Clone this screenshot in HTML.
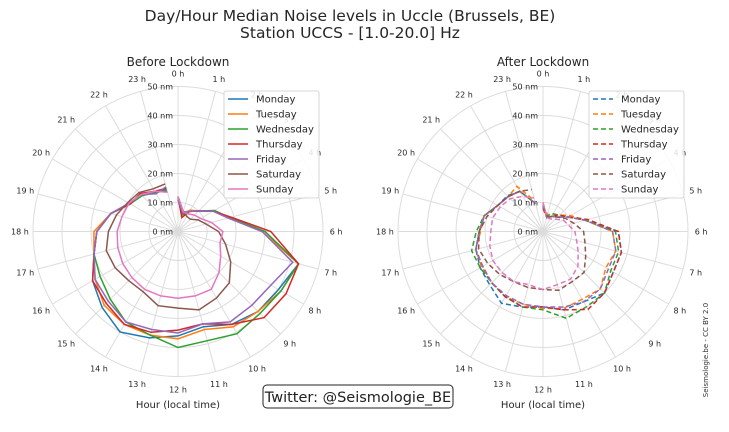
<!DOCTYPE html>
<html><head><meta charset="utf-8"><style>
body{margin:0;background:#fff;}
svg{display:block;font-family:"DejaVu Sans","Liberation Sans",sans-serif;}
</style></head><body>
<svg id="s" width="729" height="432" viewBox="0 0 729 432" xmlns="http://www.w3.org/2000/svg">
<rect width="729" height="432" fill="#fff"/>
<text x="350" y="21" font-size="15.5" text-anchor="middle" fill="#262626">Day/Hour Median Noise levels in Uccle (Brussels, BE)</text>
<text x="350" y="38" font-size="15.5" text-anchor="middle" fill="#262626">Station UCCS - [1.0-20.0] Hz</text>
<text x="178" y="66" font-size="12" text-anchor="middle" fill="#262626">Before Lockdown</text>
<text x="543" y="66" font-size="12" text-anchor="middle" fill="#262626">After Lockdown</text>
<text x="178" y="408" font-size="10" text-anchor="middle" fill="#262626">Hour (local time)</text>
<text x="543" y="408" font-size="10" text-anchor="middle" fill="#262626">Hour (local time)</text>
<rect x="263" y="385" width="190" height="23" rx="4" fill="#fff" stroke="#222" stroke-width="1"/>
<text x="358" y="402" font-size="14.5" text-anchor="middle" fill="#222">Twitter: @Seismologie_BE</text>
<text transform="translate(708,350) rotate(-90)" font-size="7" text-anchor="middle" fill="#333">Seismologie.be - CC BY 2.0</text>
<g id="g"></g>
</svg>
<script>
var NS="http://www.w3.org/2000/svg",G=document.getElementById('g');
function el(t,a,txt){var e=document.createElementNS(NS,t);for(var k in a)e.setAttribute(k,a[k]);if(txt!=null)e.textContent=txt;G.appendChild(e);return e;}
var C=['#1f77b4','#ff7f0e','#2ca02c','#d62728','#9467bd','#8c564b','#e377c2'];
var N=['Monday','Tuesday','Wednesday','Thursday','Friday','Saturday','Sunday'];
var S=2.9;
function pt(cx,cy,h,v){var a=h*15*Math.PI/180;return [cx+v*S*Math.sin(a),cy-v*S*Math.cos(a)];}
var B={
0:[12,7,8,10,14,18,30,43,40,39,37,34,36,38,40,37,34,30,28,24,19,18,15.7,14.4],
1:[12,6.5,8.5,10,14,18,29,43,41,39,38,35,37,37,37,36,33,30,29,24,19,18,16,15],
2:[11,6,8,10,14.5,18.5,30,43,41,40,40.7,39,40,37,36,33,31,30,28,24,19,17.5,15.5,15],
3:[12,5,8,10,14,19,32,43,43,42,37,33,34,36,37,35,34,30,28,24,19,18.5,16,15.5],
4:[11,6.5,8,10,14,18,29,41,37,36,36,33,35,35,36,34,33,30,28,24,19.5,18,15,16],
5:[12,7,6,6,8,10,14,17,21,25,26.5,28,26.4,26.5,24,24,25,25.6,24,22,20,19,17,17],
6:[12,7,7,8,9,12,15.5,15,17,20,23,23,23,23,23,22.5,22,21.5,21,20,19.5,18,16,14]};
var A={
0:[8.6,5,6,7,10,15,26,28,28,30,28,28,26,27,28.6,26,25,24,22,21,18,17.4,16,10],
1:[9,6,7,8,11,15,24,26,25,28,27,27.5,26.5,26,26,25,24.5,24,21.5,21,18,17,18,11],
2:[8.6,5.5,7,8,10,15,25,27,27,30,30,31,27,27,26,25,25,25.5,23,21,18,17,16,10],
3:[8,5,6,8,10,16,26,28,28,30,31,28,26,27,26,25,24,24,22,21,18,17,16,10],
4:[9,5,6,7,10,15,24,26,26,28,28,27,26,26,25.5,25,24,24,22,21,18,17,16,10],
5:[10,5,6,7,9,11,14,15,17,20,20,21,20,20,20,21,22,23,22,20,18,17,16,15],
6:[10,5,5,6,8,9,11,12,14,17,19,19,20,19,20,20,20,19,18,18,17,16,14,12]};
function plot(cx,cy,D,dash){
 for(var r=1;r<=5;r++)el('circle',{cx:cx,cy:cy,r:r*10*S,fill:'none',stroke:'#dcdcdc','stroke-width':1});
 for(var h=0;h<24;h++){var p=pt(cx,cy,h,50);el('line',{x1:cx,y1:cy,x2:p[0],y2:p[1],stroke:'#dcdcdc','stroke-width':1});
  var q=pt(cx,cy,h,54.5);el('text',{x:q[0],y:q[1]+3,'font-size':8,'text-anchor':'middle',fill:'#262626'},h+' h');}
 for(var r=0;r<=5;r++)el('text',{x:cx-5,y:cy-r*10*S+3,'font-size':8,'text-anchor':'end',fill:'#262626'},(r*10)+' nm');
 for(var d=0;d<7;d++){var s='';for(var h=0;h<24;h++){var p=pt(cx,cy,h,D[d][h]);s+=(h?'L':'M')+p[0].toFixed(1)+','+p[1].toFixed(1);}
  var a={d:s,fill:'none',stroke:C[d],'stroke-width':1.5};if(dash)a['stroke-dasharray']='5,3';el('path',a);}
 var lx=cx+46,ly=91;el('rect',{x:lx,y:ly,width:95,height:107,fill:'#fff','fill-opacity':0.85,stroke:'#ccc','stroke-width':0.8,rx:2});
 for(var d=0;d<7;d++){var y=ly+8+d*15;var a={x1:lx+4,y1:y,x2:lx+24,y2:y,stroke:C[d],'stroke-width':1.5};if(dash)a['stroke-dasharray']='5,3';el('line',a);
  el('text',{x:lx+32,y:y+3.5,'font-size':10,fill:'#262626'},N[d]);}
}
plot(178,231.5,B,false);plot(543,231.5,A,true);
</script>
</body></html>
